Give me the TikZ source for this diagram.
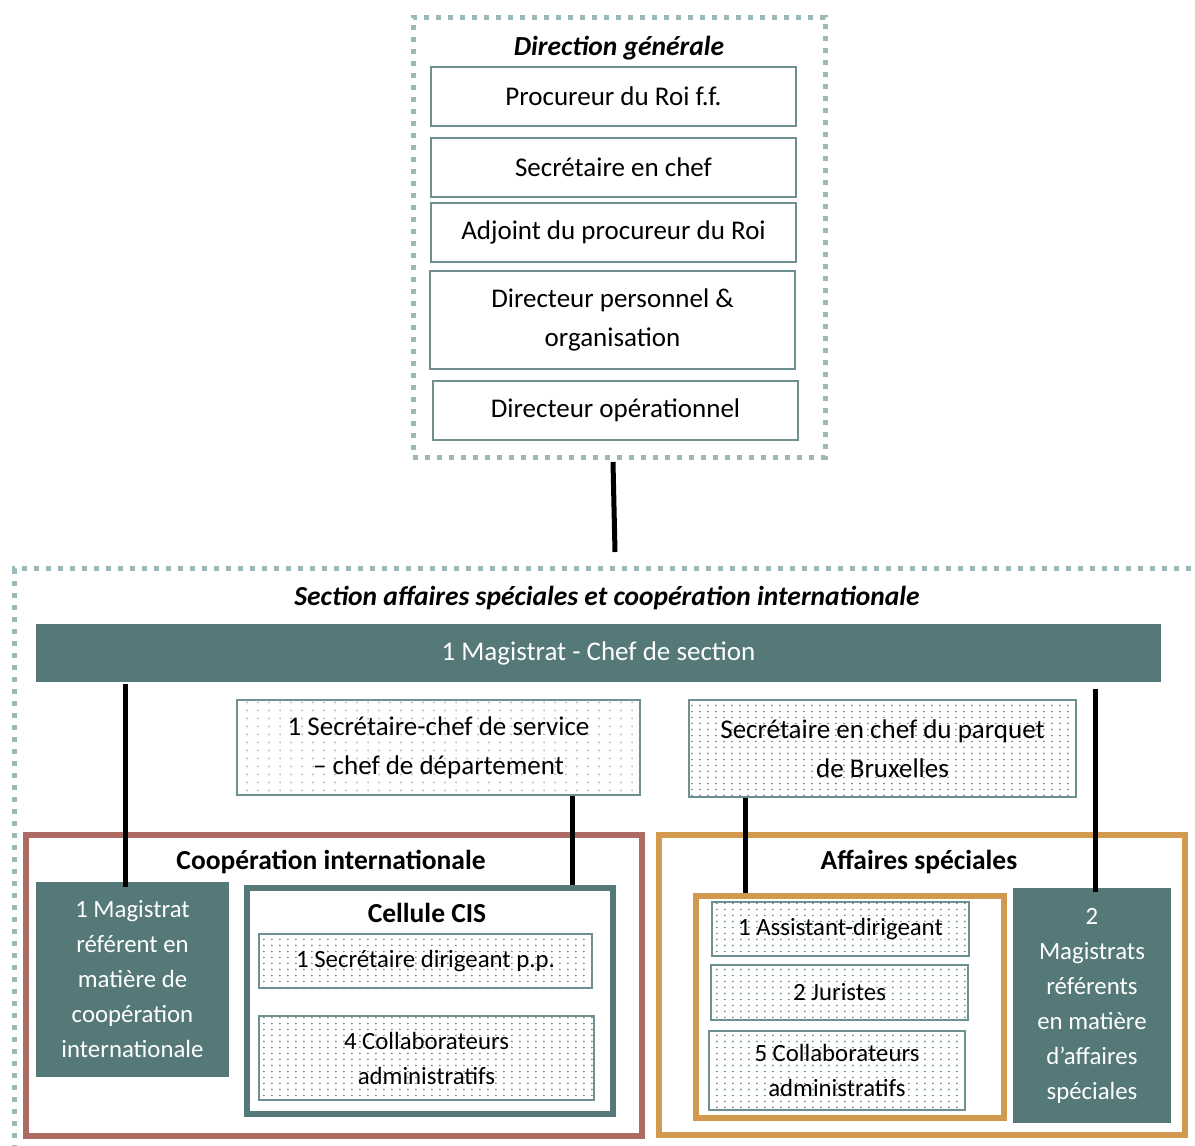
\documentclass[tikz,border=0pt]{standalone}
\usepackage{fontspec}
\setmainfont{Carlito}
\usetikzlibrary{patterns.meta,calc}
\definecolor{tealfill}{HTML}{557878}
\definecolor{boxline}{HTML}{6F9090}
\definecolor{framedot}{HTML}{9CB9B9}
\definecolor{coopred}{HTML}{AC6B63}
\definecolor{asorange}{HTML}{D19A4F}
\definecolor{dotdark}{HTML}{5F7F7F}
\definecolor{dotlight}{HTML}{A5BEBE}
\tikzdeclarepattern{name=dotgrid, type=uncolored,
  bounding box={(0pt,0pt) and (8.4pt,6pt)}, tile size={(8.4pt,6pt)},
  code={\fill (4.2pt,3pt) circle (1.0pt);}}
\tikzdeclarepattern{name=dotgridlight, type=uncolored,
  bounding box={(0pt,0pt) and (11pt,8pt)}, tile size={(11pt,8pt)},
  code={\fill (5.5pt,4pt) circle (1.2pt);}}
\tikzset{
  lbl/.style={font=\fontsize{27}{39}\selectfont, align=center, inner sep=0pt},
  lblsmall/.style={font=\fontsize{24.8}{35}\selectfont, align=center, inner sep=0pt},
  plainbox/.style={draw=boxline, line width=1.2pt, fill=white, lbl, minimum width=365pt, minimum height=59pt},
  dotbox/.style={draw=boxline, line width=1.2pt, pattern=dotgrid, pattern color=dotdark},
  lightdotbox/.style={draw=boxline, line width=1.2pt, pattern=dotgridlight, pattern color=dotlight},
  tealbox/.style={fill=tealfill, text=white},
  dgframe/.style={draw=framedot, line width=5pt, dash pattern=on 5pt off 7pt, inner sep=0pt},
  secframe/.style={draw=framedot, line width=5pt, dash pattern=on 5pt off 7pt, inner sep=0pt},
  coopframe/.style={draw=coopred, line width=6pt, inner sep=0pt},
  asframe/.style={draw=asorange, line width=6pt, inner sep=0pt},
  cisframe/.style={draw=tealfill, line width=6pt, fill=white, inner sep=0pt},
  conn/.style={line width=5pt, black},
  titlebi/.style={font=\fontsize{27.5}{30}\selectfont\bfseries\itshape, inner sep=0pt},
  titleb/.style={font=\fontsize{27.5}{30}\selectfont\bfseries, inner sep=0pt},
}
\begin{document}
\begin{tikzpicture}[x=1pt,y=-1pt]
\useasboundingbox (0,0) rectangle (1195,1146);
% Direction generale
\node[dgframe, minimum width=412pt, minimum height=440pt] (dg) at (619,237) {};
\node[titlebi] (dgt) at (619,48.5) {Direction générale};
\node[plainbox] (p1) at (613.5,96.5) {Procureur du Roi f.f.};
\node[plainbox] (p2) at (613.5,167.5) {Secrétaire en chef};
\node[plainbox] (p3) at (613.5,232.5) {Adjoint du procureur du Roi};
\node[plainbox, minimum height=98pt] (p4) at (612.5,320) {Directeur personnel \&\\organisation};
\node[plainbox] (p5) at (615.5,410.5) {Directeur opérationnel};
% Section
\node[secframe, minimum width=1196pt, minimum height=596pt, anchor=north west] (sec) at (12,566) {};
\node[titlebi] (sect) at (607,598.5) {Section affaires spéciales et coopération internationale};
\node[tealbox, lbl, minimum width=1125pt, minimum height=58pt] (bar) at (598.5,653) {1 Magistrat - Chef de section};
\node[lightdotbox, lbl, minimum width=403pt, minimum height=95pt] (sc) at (438.5,747.5) {1 Secrétaire-chef de service\\– chef de département};
\node[dotbox, lbl, minimum width=387pt, minimum height=97pt] (sp) at (882.5,748.5) {Secrétaire en chef du parquet\\de Bruxelles};
% Cooperation internationale
\node[coopframe, minimum width=616pt, minimum height=301pt, anchor=north west] (coop) at (23,832) {};
\node[titleb] (coopt) at (331,861.5) {Coopération internationale};
\node[tealbox, lblsmall, minimum width=193pt, minimum height=195pt] (m1) at (132.5,979.5) {1 Magistrat\\référent en\\matière de\\coopération\\internationale};
\node[cisframe, minimum width=366pt, minimum height=226pt, anchor=north west] (cis) at (244,885) {};
\node[titleb] (cist) at (427,912.5) {Cellule CIS};
\node[dotbox, lblsmall, minimum width=333pt, minimum height=54pt] (cis1) at (425.5,961) {1 Secrétaire dirigeant p.p.};
\node[dotbox, lblsmall, minimum width=335pt, minimum height=84pt] (cis2) at (426.5,1058) {4 Collaborateurs\\administratifs};
% Affaires speciales
\node[asframe, minimum width=526pt, minimum height=300pt, anchor=north west] (as) at (656,832) {};
\node[titleb] (ast) at (919,861.5) {Affaires spéciales};
\node[asframe, minimum width=308pt, minimum height=222pt, anchor=north west] (asin) at (693,893) {};
\node[dotbox, lblsmall, minimum width=257pt, minimum height=54pt] (as1) at (840.5,929) {1 Assistant-dirigeant};
\node[dotbox, lblsmall, minimum width=257pt, minimum height=55pt] (as2) at (839.5,992.5) {2 Juristes};
\node[dotbox, lblsmall, minimum width=256pt, minimum height=79pt] (as3) at (837,1070.5) {5 Collaborateurs\\administratifs};
\node[tealbox, lblsmall, minimum width=158pt, minimum height=235pt] (m2) at (1092,1005.5) {2\\Magistrats\\référents\\en matière\\d’affaires\\spéciales};
% connectors
\coordinate (c0a) at (613,462);
\coordinate (c0b) at (615,552);
\draw[conn] (c0a) -- (c0b);
\coordinate (x1) at (125,0);
\coordinate (x2) at (572,0);
\coordinate (x3) at (745,0);
\coordinate (x4) at (1095,0);
\draw[conn] ($(bar.south -| x1)+(0,2)$) -- ($(m1.north -| x1)+(0,5)$);
\draw[conn] (sc.south -| x2) -- (cis.north -| x2);
\draw[conn] (sp.south -| x3) -- (asin.north -| x3);
\draw[conn] ($(bar.south -| x4)+(0,7)$) -- ($(m2.north -| x4)+(0,4)$);
\end{tikzpicture}
\end{document}
